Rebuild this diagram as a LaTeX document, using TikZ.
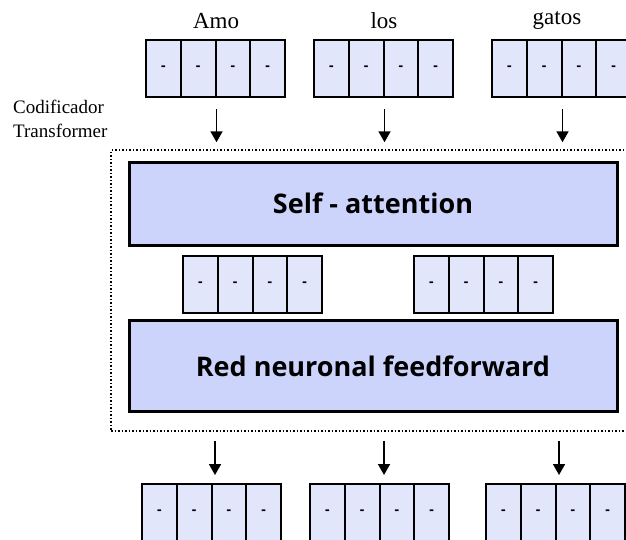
\documentclass[tikz,border=0pt]{standalone}
\usepackage{fontspec}
\setmainfont{Liberation Serif}
\newfontfamily\boxfont{Open Sans}
\usepackage{tikz}
\usetikzlibrary{positioning,arrows.meta,calc}
\definecolor{cellColor}{HTML}{E2E6FA}
\definecolor{layerColor}{HTML}{CCD4FB}

\begin{document}
\begin{tikzpicture}[
    x=1pt, y=-1pt,
    cell/.style={draw, line width=2pt, fill=cellColor, minimum width=34.75pt, minimum height=57pt, inner sep=0pt, font=\boxfont\bfseries\fontsize{14}{14}\selectfont},
    layer/.style={draw, line width=3pt, fill=layerColor, minimum width=488pt, inner sep=0pt, font=\boxfont\bfseries\fontsize{27}{30}\selectfont},
    word/.style={font=\fontsize{23}{25}\selectfont, inner sep=0pt},
    flow/.style={-{Triangle[width=12pt,length=11pt]}, line width=1.8pt}
  ]
  \useasboundingbox (0,0) rectangle (626,539);

  % encoder block
  \node[draw, dotted, line width=1.5pt, minimum width=529pt, minimum height=281pt] (enc) at (375.5,290.5) {};
  \node[align=left, anchor=north west, inner sep=0pt, font=\fontsize{19}{24}\selectfont] (enclabel) at (13,100) {Codificador\\Transformer};

  \node[layer, minimum height=83pt] (att) at (373,203.5) {Self - attention};
  \node[layer, minimum height=91pt] (ffn) at (373,366) {Red neuronal feedforward};

  % vectors
  \foreach \x/\y/\n in {146/40/in1, 314/40/in2, 492/40/in3, 183/256/mid1, 414/256/mid2, 142/484/out1, 310/484/out2, 486/484/out3} {
    \foreach \i in {0,...,3}
      \node[cell] (\n-\i) at (\x+34.75*\i+17.375, \y+28.5) {-};
  }

  % words
  \node[word] (w1) at (216,21) {Amo};
  \node[word] (w2) at (384,21) {los};
  \node[word] (w3) at (557,21) {gatos};

  % arrows
  \foreach \n in {1,2,3} {
    \coordinate (a\n s) at ($(in\n-1.south east)+(0,11)$);
    \coordinate (a\n e) at ($(a\n s |- enc.north)+(0,-7)$);
    \draw[flow] (a\n s) -- (a\n e);
  }
  \foreach \n/\dx in {1/2.5,2/3.5,3/2.5} {
    \coordinate (b\n s) at ($(enc.south -| out\n-1.north east)+(\dx,9)$);
    \coordinate (b\n e) at ($(out\n-1.north east)+(\dx,-8)$);
    \draw[flow] (b\n s) -- (b\n e);
  }
\end{tikzpicture}
\end{document}
